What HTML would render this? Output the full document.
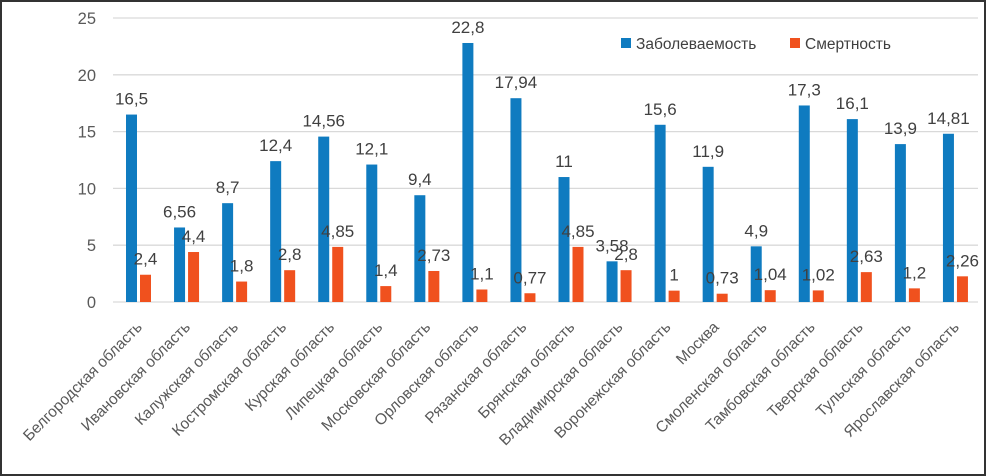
<!DOCTYPE html>
<html><head><meta charset="utf-8"><style>
html,body{margin:0;padding:0;background:#fff}
svg{display:block}
text{font-family:"Liberation Sans","DejaVu Sans",sans-serif}
</style></head><body>
<svg id="chart" width="986" height="476" viewBox="0 0 986 476">
<rect x="1" y="1" width="984" height="474" fill="#fff" stroke="#333" stroke-width="2"/>
<g id="grid"></g><g id="bars"></g><g id="labels"></g>
<g>
<rect x="621" y="38" width="10" height="10" fill="#0f7bc0"/>
<text x="636" y="49" font-size="15.5" fill="#404040">Заболеваемость</text>
<rect x="790" y="38" width="10" height="10" fill="#f0511e"/>
<text x="805" y="49" font-size="15.5" fill="#404040">Смертность</text>
</g>
</svg>
<script>
const categories=["Белгородская область","Ивановская область","Калужская область","Костромская область","Курская область","Липецкая область","Московская область","Орловская область","Рязанская область","Брянская область","Владимирская область","Воронежская область","Москва","Смоленская область","Тамбовская область","Тверская область","Тульская область","Ярославская область"];
const incidence=[16.5,6.56,8.7,12.4,14.56,12.1,9.4,22.8,17.94,11,3.58,15.6,11.9,4.9,17.3,16.1,13.9,14.81];
const mortality=[2.4,4.4,1.8,2.8,4.85,1.4,2.73,1.1,0.77,4.85,2.8,1,0.73,1.04,1.02,2.63,1.2,2.26];
const ticks=[0,5,10,15,20,25];
const NS="http://www.w3.org/2000/svg";
const L=113,R=978,Y0=302,Y25=18;
const bw=(R-L)/categories.length;
function y(v){return Y0-(v/25)*(Y0-Y25);}
function x(i){return L+i*bw;}
function mk(t,a,p){const e=document.createElementNS(NS,t);for(const k in a)e.setAttribute(k,a[k]);p.appendChild(e);return e;}
const fmt=v=>String(v).replace('.',',');
const grid=document.getElementById('grid'),bars=document.getElementById('bars'),labels=document.getElementById('labels');
ticks.forEach(t=>{
 const g=mk('line',{x1:L,x2:R,y1:y(t),y2:y(t),stroke:'#d9d9d9','stroke-width':1.3},grid);
 
 
 const tx=mk('text',{x:96,y:y(t)+6,'text-anchor':'end','font-size':16.5,fill:'#595959'},grid);
 tx.textContent=t;
 
 
});
categories.forEach((c,i)=>{
 const bx=x(i)+13, ox=x(i)+27;
 const b=mk('rect',{x:bx,y:y(incidence[i]),width:11,height:Y0-y(incidence[i]),fill:'#0f7bc0'},bars);
 
 
 const o=mk('rect',{x:ox,y:y(mortality[i]),width:11,height:Y0-y(mortality[i]),fill:'#f0511e'},bars);
 
 
 const t1=mk('text',{x:bx+5.5,y:y(incidence[i])-10,'text-anchor':'middle','font-size':17,fill:'#404040'},labels);
 t1.textContent=fmt(incidence[i]);
 
 
 const t2=mk('text',{x:ox+5.5,y:y(mortality[i])-10,'text-anchor':'middle','font-size':17,fill:'#404040'},labels);
 t2.textContent=fmt(mortality[i]);
 
 
 const cx=x(i)+bw/2+6, cy=328;
 const ct=mk('text',{x:cx,y:cy,'text-anchor':'end','font-size':15.5,fill:'#595959',transform:`rotate(-45 ${cx} ${cy})`},labels);
 ct.textContent=c;
 
 
});
</script>
</body></html>
